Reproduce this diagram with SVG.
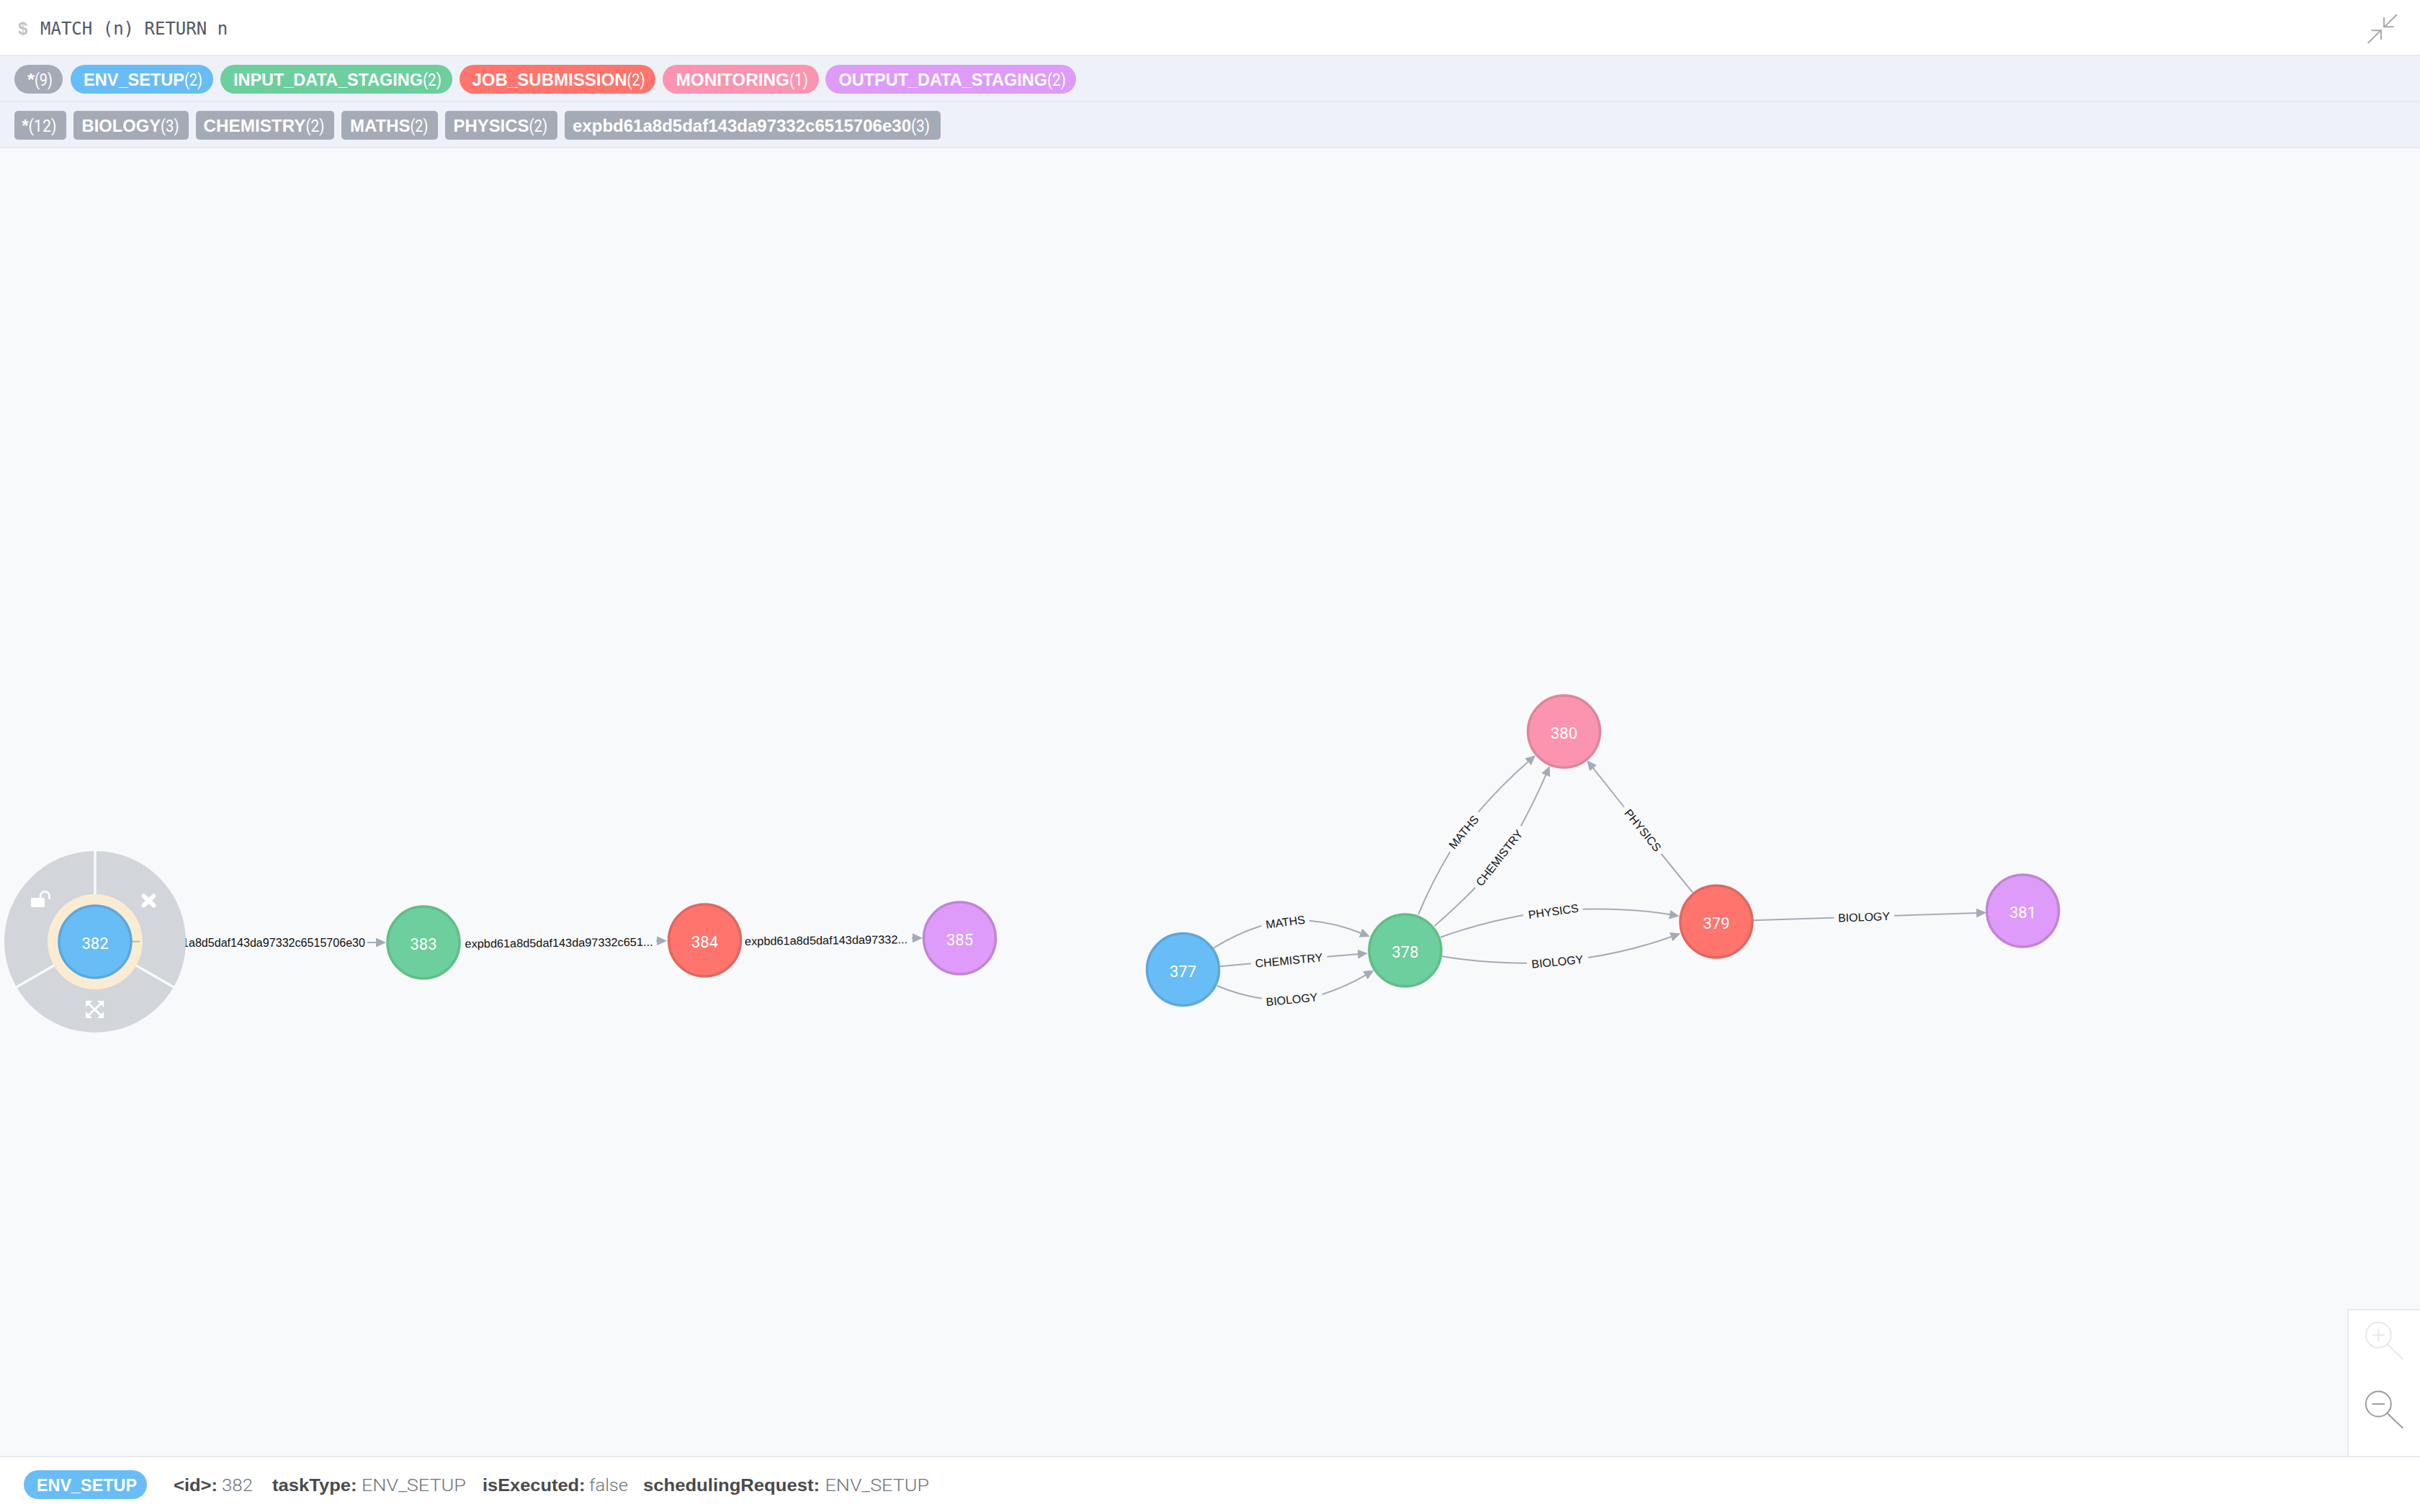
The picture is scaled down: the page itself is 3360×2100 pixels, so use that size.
<svg xmlns="http://www.w3.org/2000/svg" width="3360" height="2100" viewBox="0 0 3360 2100">
<style>
text{font-family:"Liberation Sans",Arial,sans-serif}
.pt{font-size:24px;font-weight:700;fill:#fff}
.pc{font-size:24px;font-weight:400;fill:#fff;font-family:Roboto,"Liberation Sans",sans-serif}
.grey{fill:#A5ABB6}
.nt{font-size:22px;fill:#fff;text-anchor:middle;font-weight:400;font-family:Roboto,"Liberation Sans",sans-serif}
.n{stroke-width:3.5}
.blue{fill:#68BDF6;stroke:#5CA8DB}
.green{fill:#6DCE9E;stroke:#60BE86}
.red{fill:#FF756E;stroke:#E06760}
.pink{fill:#FB95AF;stroke:#E0849B}
.purple{fill:#DE9BF9;stroke:#BF85D6}
.e{fill:none;stroke:#A5ABB6;stroke-width:2}
.ea{marker-end:url(#arrow)}
.el{font-size:16px;fill:#111;text-anchor:middle}
.fk{font-size:24px;font-weight:700;fill:#4A4A4A}
.fv{font-size:24px;font-weight:300;fill:#6F7477;font-family:Roboto,"Liberation Sans",sans-serif}
.ic{fill:none;stroke-linecap:round;stroke-width:2}
</style>
<defs>
<marker id="arrow" markerUnits="userSpaceOnUse" markerWidth="14" markerHeight="13" refX="2" refY="6.5" orient="auto"><path d="M0 0L14 6.5L0 13z" fill="#A5ABB6"/></marker>
</defs>
<rect width="3360" height="2100" fill="#fff"/>
<rect y="76" width="3360" height="130" fill="#EEF1F8"/>
<rect y="76" width="3360" height="2" fill="#E6E9EF"/>
<rect y="140" width="3360" height="2" fill="#E6E9EF"/>
<rect y="204" width="3360" height="2" fill="#E6E9EF"/>
<rect y="206" width="3360" height="1816" fill="#F8F9FB"/>
<rect y="2022" width="3360" height="2" fill="#E6E9EF"/>
<g id="query">
<text x="25" y="48" font-size="24" font-weight="700" fill="#C0C2C7">$</text>
<text x="56" y="48" font-size="24" fill="#525865" style="font-family:'DejaVu Sans Mono',monospace">MATCH (n) RETURN n</text>
</g>
<g id="shrink" class="ic" stroke="#A8A8AD">
<path d="M3288.3 59.3L3305 42.7M3293.3 42.3H3306V54.3M3327.3 20.7L3310.7 37.3M3310 25V37.3H3322.7"/>
</g>
<g id="labels">
<rect class="grey" x="20" y="90" width="67" height="40" rx="20"/><text class="pt" x="38" y="119" textLength="10" lengthAdjust="spacingAndGlyphs">*</text><text class="pc" x="48" y="119" textLength="25" lengthAdjust="spacingAndGlyphs">(9)</text>
<rect fill="#68BDF6" x="98" y="90" width="198" height="40" rx="20"/><text class="pt" x="116" y="119" textLength="140" lengthAdjust="spacingAndGlyphs">ENV_SETUP</text><text class="pc" x="256" y="119" textLength="25" lengthAdjust="spacingAndGlyphs">(2)</text>
<rect fill="#6DCE9E" x="306" y="90" width="322" height="40" rx="20"/><text class="pt" x="324" y="119" textLength="263" lengthAdjust="spacingAndGlyphs">INPUT_DATA_STAGING</text><text class="pc" x="587" y="119" textLength="26" lengthAdjust="spacingAndGlyphs">(2)</text>
<rect fill="#FF756E" x="638" y="90" width="272" height="40" rx="20"/><text class="pt" x="655.5" y="119" textLength="215" lengthAdjust="spacingAndGlyphs">JOB_SUBMISSION</text><text class="pc" x="870.5" y="119" textLength="25" lengthAdjust="spacingAndGlyphs">(2)</text>
<rect fill="#FB95AF" x="920" y="90" width="217" height="40" rx="20"/><text class="pt" x="938.5" y="119" textLength="157.5" lengthAdjust="spacingAndGlyphs">MONITORING</text><text class="pc" x="1096" y="119" textLength="26" lengthAdjust="spacingAndGlyphs">(1)</text>
<rect fill="#DE9BF9" x="1146" y="90" width="348" height="40" rx="20"/><text class="pt" x="1164.5" y="119" textLength="289.5" lengthAdjust="spacingAndGlyphs">OUTPUT_DATA_STAGING</text><text class="pc" x="1454" y="119" textLength="26" lengthAdjust="spacingAndGlyphs">(2)</text>
</g>
<g id="types">
<rect class="grey" x="20" y="154" width="72" height="40" rx="5"/><text class="pt" x="30.5" y="183" textLength="9" lengthAdjust="spacingAndGlyphs">*</text><text class="pc" x="39.5" y="183" textLength="39" lengthAdjust="spacingAndGlyphs">(12)</text>
<rect class="grey" x="102" y="154" width="160" height="40" rx="5"/><text class="pt" x="113.5" y="183" textLength="109.5" lengthAdjust="spacingAndGlyphs">BIOLOGY</text><text class="pc" x="223" y="183" textLength="25.5" lengthAdjust="spacingAndGlyphs">(3)</text>
<rect class="grey" x="272" y="154" width="192" height="40" rx="5"/><text class="pt" x="282.5" y="183" textLength="142" lengthAdjust="spacingAndGlyphs">CHEMISTRY</text><text class="pc" x="424.5" y="183" textLength="26" lengthAdjust="spacingAndGlyphs">(2)</text>
<rect class="grey" x="474" y="154" width="134" height="40" rx="5"/><text class="pt" x="486" y="183" textLength="83.5" lengthAdjust="spacingAndGlyphs">MATHS</text><text class="pc" x="569.5" y="183" textLength="25" lengthAdjust="spacingAndGlyphs">(2)</text>
<rect class="grey" x="618" y="154" width="156" height="40" rx="5"/><text class="pt" x="629.5" y="183" textLength="105" lengthAdjust="spacingAndGlyphs">PHYSICS</text><text class="pc" x="734.5" y="183" textLength="25.5" lengthAdjust="spacingAndGlyphs">(2)</text>
<rect class="grey" x="784" y="154" width="522" height="40" rx="5"/><text class="pt" x="795" y="183" textLength="470" lengthAdjust="spacingAndGlyphs">expbd61a8d5daf143da97332c6515706e30</text><text class="pc" x="1265" y="183" textLength="26" lengthAdjust="spacingAndGlyphs">(3)</text>
</g>
<g id="connectors">
<path class="e ea" d="M510 1309H524"/>
<text class="el" x="380" y="1315" textLength="254" lengthAdjust="spacingAndGlyphs">1a8d5daf143da97332c6515706e30</text>
<text class="el" transform="translate(776 1309.5) rotate(-0.6)" y="5.5" textLength="261" lengthAdjust="spacingAndGlyphs">expbd61a8d5daf143da97332c651...</text>
<path class="e ea" d="M911 1306.7H914"/>
<text class="el" transform="translate(1147 1306) rotate(-0.7)" y="5.5" textLength="226" lengthAdjust="spacingAndGlyphs">expbd61a8d5daf143da97332...</text>
<path class="e ea" d="M1266 1302.8H1269"/>
<path class="e" d="M1685 1316.7Q1716 1297 1751.4 1285.7"/>
<path class="e ea" d="M1818 1278.7Q1856 1282 1891 1296.5"/>
<text class="el" transform="translate(1784.6 1280.7) rotate(-7.8)" y="5.5">MATHS</text>
<path class="e" d="M1694 1342.3L1736.8 1338.3"/>
<path class="e ea" d="M1842.5 1328.7L1887 1325"/>
<text class="el" transform="translate(1789.6 1334) rotate(-5.3)" y="5.5">CHEMISTRY</text>
<path class="e" d="M1689.6 1369Q1720 1382 1752 1386.7"/>
<path class="e ea" d="M1836 1381Q1868 1371 1897.3 1353.7"/>
<text class="el" transform="translate(1793.6 1388.3) rotate(-5.6)" y="5.5">BIOLOGY</text>
<path class="e" d="M1969.3 1270Q1988 1225 2013.3 1183.3"/>
<path class="e ea" d="M2052.7 1127.7Q2085 1090 2123 1056.8"/>
<text class="el" transform="translate(2032.3 1155.7) rotate(-50)" y="5.5">MATHS</text>
<path class="e" d="M1991.7 1286Q2022 1260 2048.3 1232.7"/>
<path class="e ea" d="M2111.7 1147.3Q2131 1112 2147 1074.7"/>
<text class="el" transform="translate(2081.7 1191.7) rotate(-52)" y="5.5">CHEMISTRY</text>
<path class="e" d="M2350 1239.3L2306.7 1186"/>
<path class="e ea" d="M2255 1121L2210.8 1065.4"/>
<text class="el" transform="translate(2281 1153.3) rotate(51)" y="5.5">PHYSICS</text>
<path class="e" d="M2000 1301.7Q2055 1282 2115 1271"/>
<path class="e ea" d="M2197.3 1262.7Q2265 1261 2320 1270.5"/>
<text class="el" transform="translate(2156.7 1266) rotate(-8)" y="5.5">PHYSICS</text>
<path class="e" d="M2002.3 1328.3Q2060 1338 2120 1337.7"/>
<path class="e ea" d="M2205 1330Q2265 1321 2322 1300.5"/>
<text class="el" transform="translate(2162.3 1335.7) rotate(-5.7)" y="5.5">BIOLOGY</text>
<path class="e" d="M2434 1278.3L2546.4 1274.7"/>
<path class="e ea" d="M2630 1271.7L2746 1268"/>
<text class="el" transform="translate(2588 1273.7) rotate(-1.9)" y="5.5">BIOLOGY</text>
</g>
<g id="node-382">
<circle cx="132" cy="1308" r="126" fill="#D2D5DA"/>
<path d="M132 1182V1308M132 1308L22.9 1371M132 1308L241.1 1371" stroke="#F8F9FB" stroke-width="3.5" fill="none"/>
<circle cx="132" cy="1308" r="66" fill="#FAECD2"/>
<path d="M183 1307.7H194" stroke="#C5BA9E" stroke-width="2"/>
<path d="M45 1247H60a2 2 0 0 1 2 2V1258a2 2 0 0 1 -2 2H45a2 2 0 0 1 -2 -2V1249a2 2 0 0 1 2 -2z" fill="#fff"/>
<path d="M56 1248V1244.5A6.3 6.3 0 0 1 68.6 1244.5V1249" fill="none" stroke="#fff" stroke-width="2.5"/>
<path d="M199.5 1244.5L213.5 1257.5M213.5 1244.5L199.5 1257.5" stroke="#fff" stroke-width="6" stroke-linecap="round"/>
<path d="M123 1394L140 1410M140 1394L123 1410" stroke="#fff" stroke-width="3"/>
<path d="M119 1390H128L119 1399zM144 1390V1399L135 1390zM119 1414V1405L128 1414zM144 1414H135L144 1405z" fill="#fff"/>
<circle class="n blue" cx="132" cy="1308" r="50"/>
<text class="nt" x="132" y="1318">382</text>
</g>
<g id="node-383"><circle class="n green" cx="588" cy="1309" r="50"/><text class="nt" x="588" y="1319">383</text></g>
<g id="node-384"><circle class="n red" cx="978.5" cy="1306" r="50"/><text class="nt" x="978.5" y="1316">384</text></g>
<g id="node-385"><circle class="n purple" cx="1332.5" cy="1303" r="50"/><text class="nt" x="1332.5" y="1313">385</text></g>
<g id="node-377"><circle class="n blue" cx="1642.5" cy="1346.5" r="50"/><text class="nt" x="1642.5" y="1356.5">377</text></g>
<g id="node-378"><circle class="n green" cx="1951" cy="1320" r="50"/><text class="nt" x="1951" y="1330">378</text></g>
<g id="node-379"><circle class="n red" cx="2383" cy="1280" r="50"/><text class="nt" x="2383" y="1290">379</text></g>
<g id="node-380"><circle class="n pink" cx="2171.5" cy="1016" r="50"/><text class="nt" x="2171.5" y="1026">380</text></g>
<g id="node-381"><circle class="n purple" cx="2808.5" cy="1265" r="50"/><text class="nt" x="2808.5" y="1275">381</text></g>
<g id="zoom">
<rect x="3260" y="1819" width="100" height="203" fill="#fff"/>
<path d="M3360 1819H3260V2022" fill="none" stroke="#E6E9EF" stroke-width="2"/>
<g class="ic" stroke="#E8E8E8"><circle cx="3302.3" cy="1854.3" r="17.5"/><path d="M3294.3 1854.3H3310.3M3302.3 1846.3V1862.3M3315 1867.3L3335.7 1887.3"/></g>
<g class="ic" stroke="#9B9BA2"><circle cx="3302.3" cy="1950" r="17.5"/><path d="M3294.3 1950H3310.3M3315 1963.3L3335.7 1983"/></g>
</g>
<g id="details">
<rect fill="#68BDF6" x="33" y="2042" width="171" height="40" rx="20"/>
<text class="pt" x="51" y="2071" textLength="139" lengthAdjust="spacingAndGlyphs">ENV_SETUP</text>
<text class="fk" x="241" y="2071" textLength="61" lengthAdjust="spacingAndGlyphs">&lt;id&gt;:</text><text class="fv" x="308" y="2071" textLength="43" lengthAdjust="spacingAndGlyphs">382</text>
<text class="fk" x="378" y="2071" textLength="117.5" lengthAdjust="spacingAndGlyphs">taskType:</text><text class="fv" x="502" y="2071" textLength="145" lengthAdjust="spacingAndGlyphs">ENV_SETUP</text>
<text class="fk" x="670" y="2071" textLength="142.5" lengthAdjust="spacingAndGlyphs">isExecuted:</text><text class="fv" x="818" y="2071" textLength="54" lengthAdjust="spacingAndGlyphs">false</text>
<text class="fk" x="893" y="2071" textLength="245" lengthAdjust="spacingAndGlyphs">schedulingRequest:</text><text class="fv" x="1145.5" y="2071" textLength="144.5" lengthAdjust="spacingAndGlyphs">ENV_SETUP</text>
</g>
</svg>
